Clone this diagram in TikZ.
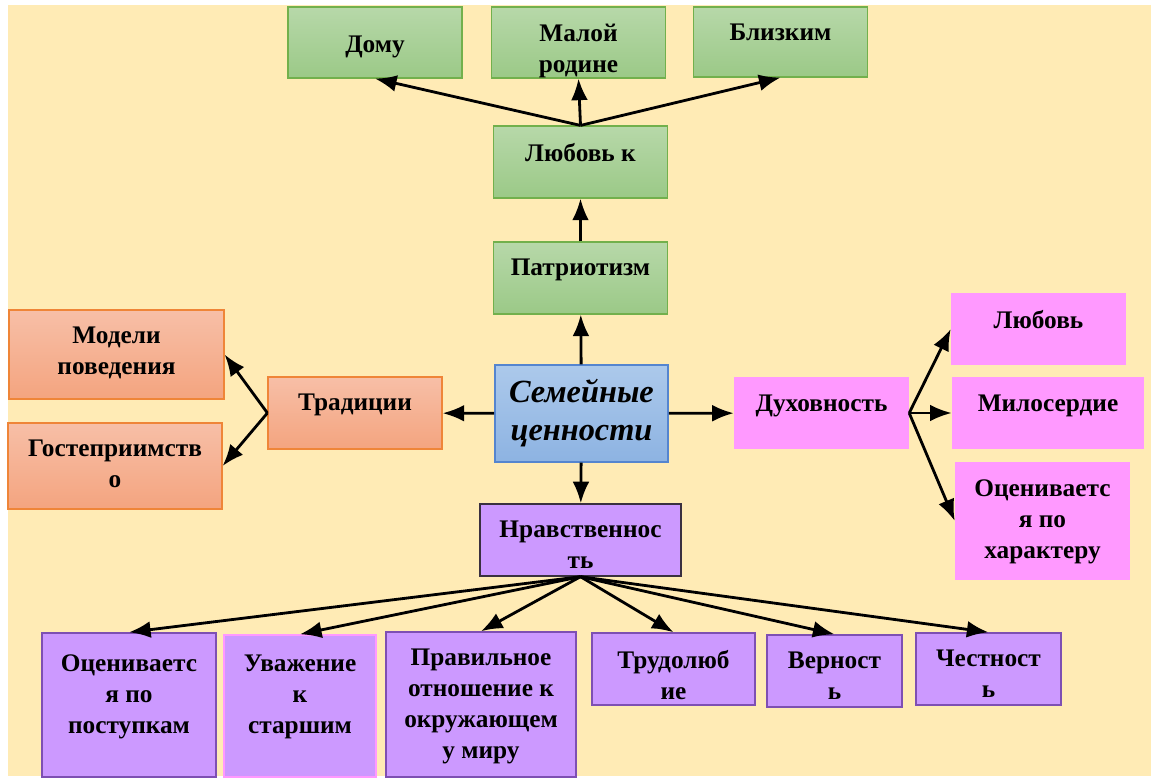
\documentclass[tikz,border=0pt]{standalone}
\usepackage{fontspec}
\setmainfont{Liberation Serif}
\usepackage{tikz}
\usetikzlibrary{arrows.meta}
\definecolor{bgyellow}{HTML}{FFEBB5}
\definecolor{grtop}{HTML}{B7D8A9}
\definecolor{grbot}{HTML}{9BC987}
\definecolor{grline}{HTML}{72B04C}
\definecolor{bltop}{HTML}{ACC9EB}
\definecolor{blbot}{HTML}{8DB3E2}
\definecolor{blline}{HTML}{5585CF}
\definecolor{ortop}{HTML}{F7BFA7}
\definecolor{orbot}{HTML}{F4A47F}
\definecolor{orline}{HTML}{EF8538}
\definecolor{pinkfill}{HTML}{FF99FF}
\definecolor{purpfill}{HTML}{CC99FF}
\definecolor{purpline}{HTML}{7E4FB3}
\definecolor{nravline}{HTML}{3A3040}
\tikzstyle{greenbox} = [rectangle, draw=grline, line width=0.8pt, top color=grtop, bottom color=grbot, minimum width=4.33cm, minimum height=1.8cm, inner sep=0pt]
\tikzstyle{bluebox} = [rectangle, draw=blline, line width=1pt, top color=bltop, bottom color=blbot, minimum width=4.33cm, minimum height=2.42cm, inner sep=0pt]
\tikzstyle{orangebox} = [rectangle, draw=orline, line width=0.8pt, top color=ortop, bottom color=orbot, minimum height=1.8cm, inner sep=0pt]
\tikzstyle{pinkbox} = [rectangle, fill=pinkfill, minimum width=4.37cm, minimum height=1.8cm, inner sep=0pt]
\tikzstyle{purplebox} = [rectangle, draw=purpline, line width=1pt, fill=purpfill, minimum height=1.8cm, inner sep=0pt]
\tikzstyle{txt} = [anchor=north, align=center, inner sep=0pt, yshift=-0.44cm, font=\bfseries\fontsize{18}{22}\selectfont]
\tikzstyle{bigtxt} = [anchor=north, align=center, inner sep=0pt, yshift=-0.37cm, font=\bfseries\itshape\fontsize{23}{27}\selectfont]
\tikzstyle{arrow} = [line width=2pt, -{Latex[length=5.4mm,width=4.2mm]}]

\begin{document}
\begin{tikzpicture}[x=0.025cm, y=-0.025cm]
\useasboundingbox (0,0) rectangle (1151,780);
\fill[white] (0,0) rectangle (1151,780);
\fill[bgyellow] (8,5) rectangle (1151,776);

% top: patriotism
\node (Dom) [greenbox, minimum width=4.35cm, minimum height=1.775cm, label={[txt,yshift=-0.3cm]north:Дому}] at (375,42.5) {};
\node (Rodina) [greenbox, minimum height=1.775cm, label={[txt]north:{Малой\\родине}}] at (578.5,42.5) {};
\node (Blizkim) [greenbox, minimum height=1.75cm, label={[txt]north:Близким}] at (780.5,42) {};
\node (Lyub_k) [greenbox, label={[txt]north:Любовь к}] at (580.5,162) {};
\node (Patr) [greenbox, label={[txt]north:Патриотизм}] at (580.5,278) {};

% centre
\node (Sem) [bluebox, label={[bigtxt]north:{Семейные\\ценности}}] at (581.5,413.5) {};

% left: traditions
\node (Trad) [orangebox, minimum width=4.35cm, label={[txt]north:Традиции}] at (355,413) {};
\node (Modeli) [orangebox, minimum width=5.375cm, minimum height=2.225cm, label={[txt]north:{Модели\\поведения}}] at (116.5,354.5) {};
\node (Gost) [orangebox, minimum width=5.35cm, minimum height=2.15cm, label={[txt]north:{Гостеприимств\\о}}] at (115,466) {};

% right: spirituality
\node (Duh) [pinkbox, label={[txt]north:Духовность}] at (821.5,413) {};
\node (Lyub) [pinkbox, label={[txt]north:Любовь}] at (1038.5,329) {};
\node (Milos) [pinkbox, minimum width=4.8cm, label={[txt]north:Милосердие}] at (1048,413) {};
\node (Harakt) [pinkbox, minimum height=2.95cm, label={[txt]north:{Оцениваетс\\я по\\характеру}}] at (1042.5,521) {};

% bottom: morality
\node (Nrav) [purplebox, draw=nravline, minimum width=5.025cm, label={[txt]north:{Нравственнос\\ть}}] at (580.5,540) {};
\node (Postup) [purplebox, minimum width=4.35cm, minimum height=3.6cm, label={[txt,yshift=-0.12cm]north:{Оцениваетс\\я по\\поступкам}}] at (129,705) {};
\node (Uvazh) [purplebox, draw=pinkfill, minimum width=3.8cm, minimum height=3.55cm, label={[txt,yshift=-0.08cm]north:{Уважение\\к\\старшим}}] at (300,706) {};
\node (Mir) [purplebox, minimum width=4.75cm, minimum height=3.625cm, label={[txt]north:{Правильное\\отношение к\\окружающем\\у миру}}] at (481,704.5) {};
\node (Trud) [purplebox, minimum width=4.075cm, label={[txt]north:{Трудолюб\\ие}}] at (673.5,669) {};
\node (Vern) [purplebox, minimum width=3.375cm, label={[txt]north:{Верност\\ь}}] at (834.5,671) {};
\node (Chest) [purplebox, minimum width=3.625cm, label={[txt]north:{Честност\\ь}}] at (988.5,669) {};

\draw [arrow] (Sem) -- (Patr);
\draw [arrow] (Patr) -- (Lyub_k);
\draw [arrow] (Lyub_k.north) -- (Dom.south);
\draw [arrow] (Lyub_k.north) -- (Rodina.south);
\draw [arrow] (Lyub_k.north) -- (Blizkim.south);
\draw [arrow] (Sem) -- (Trad);
\draw [arrow] (Trad.west) -- (Modeli.east);
\draw [arrow] (Trad.west) -- (Gost.east);
\draw [arrow] (Sem) -- (Duh);
\draw [arrow] (Duh.east) -- (Lyub.west);
\draw [arrow] (Duh.east) -- (Milos.west);
\draw [arrow] (Duh.east) -- (Harakt.west);
\draw [arrow] (Sem) -- (Nrav);
\draw [arrow] (Nrav.south) -- (Postup.north);
\draw [arrow] (Nrav.south) -- (Uvazh.north);
\draw [arrow] (Nrav.south) -- (Mir.north);
\draw [arrow] (Nrav.south) -- (Trud.north);
\draw [arrow] (Nrav.south) -- (Vern.north);
\draw [arrow] (Nrav.south) -- (Chest.north);
\end{tikzpicture}
\end{document}
